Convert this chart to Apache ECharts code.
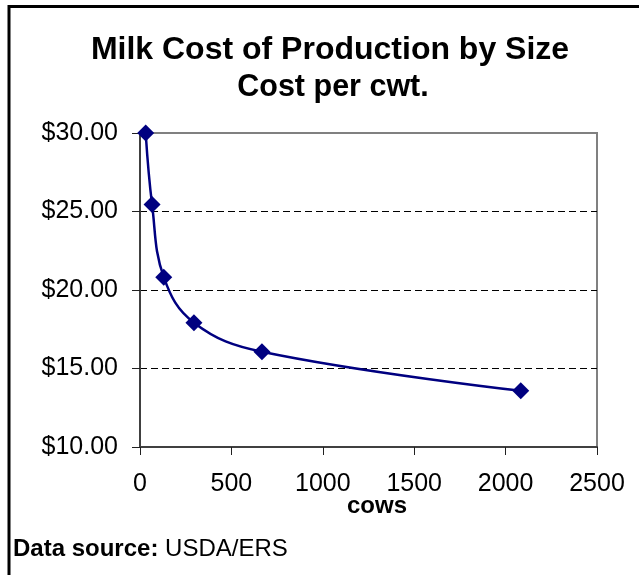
<!DOCTYPE html>
<html>
<head>
<meta charset="utf-8">
<script src="https://cdn.jsdelivr.net/npm/echarts@6/dist/echarts.min.js"></script>
<style>
html,body{margin:0;padding:0;background:#fff;}
#chart{width:639px;height:575px;}
</style>
</head>
<body>
<div id="chart"></div>
<script>
// Data
var cows = [31, 66, 130, 295, 667, 2083];
var costPerCwt = [30.00, 25.45, 20.82, 17.92, 16.07, 13.58];
var yTicks = [10, 15, 20, 25, 30];
var xTicks = [0, 500, 1000, 1500, 2000, 2500];
var titleText = 'Milk Cost of Production by Size';
var subtitleText = 'Cost per cwt.';
var xAxisName = 'cows';
var sourceLabel = 'Data source: ';
var sourceValue = 'USDA/ERS';

var FONT = '"Liberation Sans", Arial, sans-serif';
var chart = echarts.init(document.getElementById('chart'), null, {renderer: 'canvas'});

var points = cows.map(function (c, i) { return [c, costPerCwt[i]]; });

var option = {
  backgroundColor: '#ffffff',
  animation: false,
  title: [
    {
      text: titleText,
      left: 325, top: 29, textAlign: 'center',
      textStyle: {fontFamily: FONT, fontSize: 32, fontWeight: 'bold', color: '#000'}
    },
    {
      text: subtitleText,
      left: 328, top: 67, textAlign: 'center',
      textStyle: {fontFamily: FONT, fontSize: 30.5, fontWeight: 'bold', color: '#000'}
    }
  ],
  grid: {
    left: 140, top: 133, right: 42, bottom: 128,
    show: true, borderColor: '#808080', borderWidth: 2,
    backgroundColor: '#ffffff',
    outerBoundsMode: 'none',
    containLabel: false
  },
  xAxis: {
    type: 'value',
    min: xTicks[0], max: xTicks[xTicks.length - 1], interval: 500,
    axisLine: {show: true, onZero: false, lineStyle: {color: '#404040', width: 2}},
    axisTick: {show: true, inside: false, length: 8, lineStyle: {color: '#202020', width: 1}},
    axisLabel: {
      margin: 25, fontFamily: FONT, fontSize: 25, color: '#000',
      formatter: function (v) { return String(v); }
    },
    splitLine: {show: false}
  },
  yAxis: {
    type: 'value',
    min: yTicks[0], max: yTicks[yTicks.length - 1], interval: 5,
    axisLine: {show: true, onZero: false, lineStyle: {color: '#404040', width: 2}},
    axisTick: {show: true, inside: false, length: 8, lineStyle: {color: '#202020', width: 1}},
    axisLabel: {
      margin: 22, fontFamily: FONT, fontSize: 25, color: '#000',
      formatter: function (v) { return '$' + v.toFixed(2); }
    },
    splitLine: {
      show: true,
      lineStyle: {
        color: ['rgba(0,0,0,0)', '#000', '#000', '#000', 'rgba(0,0,0,0)'],
        type: [7, 4], width: 1
      }
    }
  },
  series: [{
    type: 'line',
    data: points,
    smooth: 0.4,
    symbol: 'diamond',
    symbolSize: 17,
    lineStyle: {color: '#000080', width: 2.5},
    itemStyle: {color: '#000080'},
    z: 5
  }],
  graphic: [
    {
      type: 'rect',
      shape: {x: 9, y: 6.5, width: 1000, height: 1000},
      style: {fill: 'none', stroke: '#000', lineWidth: 3},
      silent: true, z: 10
    },
    {
      type: 'text',
      x: 377, y: 494,
      style: {
        text: xAxisName, textAlign: 'center', textVerticalAlign: 'top',
        font: 'bold 24px ' + FONT, fill: '#000'
      }
    },
    {
      type: 'text',
      x: 13, y: 537,
      style: {
        text: '{b|' + sourceLabel + '}{n|' + sourceValue + '}',
        textVerticalAlign: 'top',
        rich: {
          b: {fontFamily: FONT, fontSize: 24, fontWeight: 'bold', fill: '#000'},
          n: {fontFamily: FONT, fontSize: 24, fill: '#000'}
        }
      }
    }
  ]
};
chart.setOption(option);
</script>
</body>
</html>
